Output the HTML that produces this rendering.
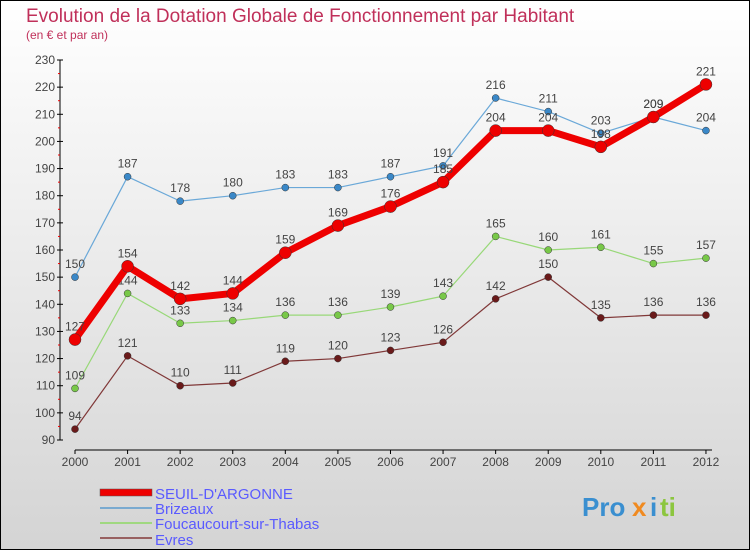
<!DOCTYPE html>
<html><head><meta charset="utf-8"><style>
body{margin:0}
#c{width:750px;height:550px;position:relative;font-family:"Liberation Sans",sans-serif;}
</style></head><body>
<div id="c">
<svg id="s" width="750" height="550" xmlns="http://www.w3.org/2000/svg">
<defs><linearGradient id="bg" x1="0" y1="0" x2="0" y2="1"><stop offset="0" stop-color="#ffffff"/><stop offset="1" stop-color="#d4d4d4"/></linearGradient></defs>
<rect x="0.5" y="0.5" width="749" height="549" fill="url(#bg)" stroke="#000"/>
<text x="26" y="22" font-size="19" fill="#c0305a">Evolution de la Dotation Globale de Fonctionnement par Habitant</text>
<text x="26" y="39" font-size="12" fill="#c0305a">(en € et par an)</text>
<g id="axes"></g><g id="series"></g>
<g>
<rect x="100" y="489" width="52" height="7" fill="#e00" stroke="#555" stroke-width="0.5"/>
<text x="155" y="499" font-size="15" fill="#5a5aff">SEUIL-D'ARGONNE</text>
<line x1="100" y1="508" x2="152" y2="508" stroke="#7aaad0" stroke-width="2"/>
<text x="155" y="514" font-size="15" fill="#5a5aff">Brizeaux</text>
<line x1="100" y1="523" x2="152" y2="523" stroke="#a0d880" stroke-width="2"/>
<text x="155" y="529" font-size="15" fill="#5a5aff">Foucaucourt-sur-Thabas</text>
<line x1="100" y1="538" x2="152" y2="538" stroke="#986060" stroke-width="2"/>
<text x="155" y="545" font-size="15" fill="#5a5aff">Evres</text>
</g>
<g font-size="26" font-weight="bold">
<text x="582" y="516" fill="#3a8fd0">Pro</text><text x="632" y="516" fill="#f08a20">x</text><text x="650" y="516" fill="#3a8fd0">i</text><text x="660" y="516" fill="#8cc63f">ti</text>
</g>
</svg></div>
<script>
const years=[2000,2001,2002,2003,2004,2005,2006,2007,2008,2009,2010,2011,2012];
const yTicks=[90,100,110,120,130,140,150,160,170,180,190,200,210,220,230];
const seuil=[127,154,142,144,159,169,176,185,204,204,198,209,221];
const brizeaux=[150,187,178,180,183,183,187,191,216,211,203,209,204];
const foucaucourt=[109,144,133,134,136,136,139,143,165,160,161,155,157];
const evres=[94,121,110,111,119,120,123,126,142,150,135,136,136];
const NS="http://www.w3.org/2000/svg";
function X(i){return 75+i*52.58;}
function Y(v){return 440-(v-90)*380/140;}
function mk(t,a,p){const e=document.createElementNS(NS,t);for(const k in a)e.setAttribute(k,a[k]);p.appendChild(e);return e;}
const ax=document.getElementById('axes');
let l=mk('line',{x1:60,y1:Y(230),x2:60,y2:440,stroke:'#000'},ax);

l=mk('line',{x1:75,y1:450,x2:712,y2:450,stroke:'#000'},ax);

yTicks.forEach(v=>{const y=Y(v);mk('line',{x1:57,y1:y,x2:63,y2:y,stroke:'#000'},ax);
if(v<230)mk('line',{x1:58,y1:Y(v+5),x2:60,y2:Y(v+5),stroke:'#e00'},ax);
const t=mk('text',{x:55,y:y+4,'font-size':12,'text-anchor':'end',fill:'#444'},ax);t.textContent=v;
});
years.forEach((yr,i)=>{const x=X(i);mk('line',{x1:x,y1:450,x2:x,y2:454,stroke:'#000'},ax);
const t=mk('text',{x:x,y:466,'font-size':12,'text-anchor':'middle',fill:'#444'},ax);t.textContent=yr;
});
const sg=document.getElementById('series');
function draw(name,data,col,w,r,dot){const g=mk('g',{},sg);

mk('polyline',{points:data.map((v,i)=>X(i)+','+Y(v)).join(' '),fill:'none',stroke:col,'stroke-width':w,'stroke-linejoin':'round'},g);
data.forEach((v,i)=>{const c=mk('circle',{cx:X(i),cy:Y(v),r:r,fill:dot,stroke:'#333','stroke-width':0.5},g);

const t=mk('text',{x:X(i),y:Y(v)-9,'font-size':12,'text-anchor':'middle',fill:'#444'},g);t.textContent=v;
});}
draw('evres',evres,'#803838',1.2,3.5,'#6a1a1a');
draw('foucaucourt',foucaucourt,'#98d878',1.2,3.5,'#78c848');
draw('brizeaux',brizeaux,'#6aa8d8',1.2,3.5,'#3a88c8');
draw('seuil',seuil,'#ee0000',7,6,'#ee0000');
</script></body></html>
